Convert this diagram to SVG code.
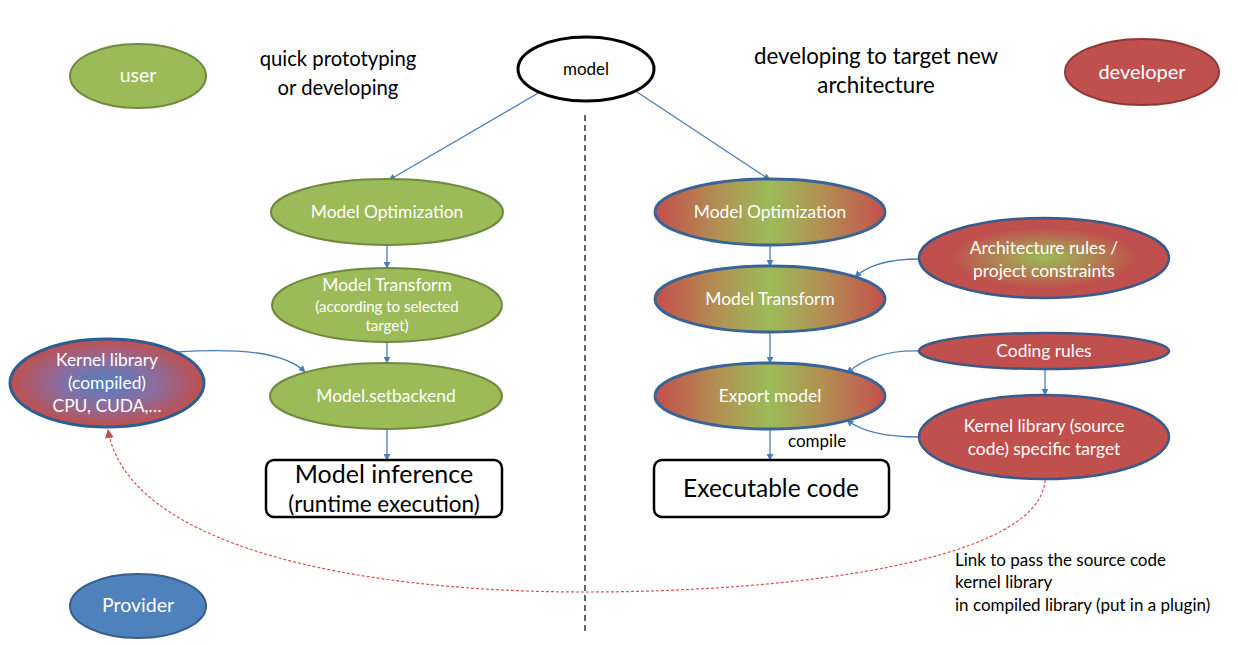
<svg xmlns="http://www.w3.org/2000/svg" width="1238" height="645" viewBox="0 0 1238 645">
<defs>
<style>
.t{font-family:Lato,"Open Sans","Liberation Sans",sans-serif}
.w{fill:#fff}
.k{fill:#000}
.n{font-size:17.4px}
.g{fill:#9BBB59;stroke:#71893F;stroke-width:2}
.rg{fill:url(#rgGrad);stroke:#3A6396;stroke-width:3}
.r{fill:#C0504D;stroke:#3A5A8C;stroke-width:2.5}
.c{fill:none;stroke:#4A7EBB;stroke-width:1.3}
.box{fill:#fff;stroke:#000;stroke-width:2.5}
</style>
<linearGradient id="rgGrad" x1="0" y1="0" x2="1" y2="0">
<stop offset="0" stop-color="#C34F4C"/>
<stop offset="0.28" stop-color="#B29153"/>
<stop offset="0.5" stop-color="#9CBB58"/>
<stop offset="0.72" stop-color="#B29153"/>
<stop offset="1" stop-color="#C34F4C"/>
</linearGradient>
<radialGradient id="archGrad" cx="0.5" cy="0.5" r="0.5">
<stop offset="0" stop-color="#9BBB59"/>
<stop offset="0.75" stop-color="#C0504D"/>
</radialGradient>
<radialGradient id="kcGrad" cx="0.5" cy="0.5" r="0.5">
<stop offset="0" stop-color="#4F81BD"/>
<stop offset="0.5" stop-color="#8A6DA0"/>
<stop offset="1" stop-color="#C0504D"/>
</radialGradient>
<marker id="ab" viewBox="0 0 10 10" refX="9" refY="5" markerWidth="7" markerHeight="7" orient="auto-start-reverse" markerUnits="userSpaceOnUse">
<path d="M0,0 L10,5 L0,10 z" fill="#4A7EBB"/>
</marker>
<marker id="ar" viewBox="0 0 10 10" refX="9" refY="5" markerWidth="9" markerHeight="9" orient="auto" markerUnits="userSpaceOnUse">
<path d="M0,0 L10,5 L0,10 z" fill="#C0504D"/>
</marker>
</defs>
<rect width="1238" height="645" fill="#fff"/>

<line x1="585" y1="115" x2="585" y2="632" stroke="#000" stroke-width="1.2" stroke-dasharray="6,4"/>

<text class="t k" x="338" y="66" font-size="20.3" text-anchor="middle">quick prototyping</text>
<text class="t k" x="338" y="95" font-size="20.3" text-anchor="middle">or developing</text>
<text class="t k" x="876" y="64" font-size="22.3" text-anchor="middle">developing to target new</text>
<text class="t k" x="876" y="93" font-size="22.3" text-anchor="middle">architecture</text>

<g id="connectors">
<line class="c" x1="540" y1="92" x2="389" y2="180" marker-end="url(#ab)"/>
<line class="c" x1="637" y1="92" x2="770" y2="180" marker-end="url(#ab)"/>
<line class="c" x1="387" y1="245" x2="387" y2="268" marker-end="url(#ab)"/>
<line class="c" x1="387" y1="342" x2="387" y2="363" marker-end="url(#ab)"/>
<line class="c" x1="387" y1="429" x2="387" y2="460" marker-end="url(#ab)"/>
<path class="c" d="M177,352 C240,348 285,352 305,372" marker-end="url(#ab)"/>
<line class="c" x1="770" y1="245" x2="770" y2="266" marker-end="url(#ab)"/>
<line class="c" x1="770" y1="332" x2="770" y2="363" marker-end="url(#ab)"/>
<line class="c" x1="770" y1="429" x2="770" y2="460" marker-end="url(#ab)"/>
<path class="c" d="M919,259 C890,259 868,265 855,277" marker-end="url(#ab)"/>
<path class="c" d="M919,351 C885,350 862,360 847,373" marker-end="url(#ab)"/>
<path class="c" d="M919,437 C885,437 862,432 847,420" marker-end="url(#ab)"/>
<line class="c" x1="1045" y1="369" x2="1045" y2="395" marker-end="url(#ab)"/>
<path d="M1045,480 C1040,560 800,592 585,592 C350,592 128,545 108,430" fill="none" stroke="#D9534F" stroke-width="1.2" stroke-dasharray="3,2" marker-end="url(#ar)"/>
<text class="t k" x="788" y="447" font-size="17">compile</text>
</g>

<g id="user">
<ellipse class="g" cx="138" cy="76" rx="68" ry="32"/>
<text class="t w" x="138" y="82" font-size="19.5" text-anchor="middle">user</text>
</g>
<g id="model">
<ellipse cx="586" cy="69" rx="68" ry="32" fill="#fff" stroke="#000" stroke-width="3"/>
<text class="t k" x="586" y="75" font-size="17" text-anchor="middle">model</text>
</g>
<g id="developer">
<ellipse cx="1142" cy="72" rx="77" ry="33" fill="#C0504D" stroke="#8C3836" stroke-width="2"/>
<text class="t w" x="1142" y="79" font-size="20" text-anchor="middle">developer</text>
</g>
<g id="provider">
<ellipse cx="138" cy="606" rx="68" ry="32" fill="#4F81BD" stroke="#385D8A" stroke-width="2"/>
<text class="t w" x="138" y="612" font-size="19.5" text-anchor="middle">Provider</text>
</g>

<g id="left-opt">
<ellipse class="g" cx="387" cy="212" rx="116" ry="33"/>
<text class="t w n" x="387" y="218" text-anchor="middle">Model Optimization</text>
</g>
<g id="left-transform">
<ellipse class="g" cx="387" cy="305" rx="115" ry="37"/>
<text class="t w n" x="387" y="291" text-anchor="middle">Model Transform</text>
<text class="t w" x="387" y="312" font-size="15" text-anchor="middle">(according to selected</text>
<text class="t w" x="387" y="331" font-size="15" text-anchor="middle">target)</text>
</g>
<g id="left-backend">
<ellipse class="g" cx="386" cy="396" rx="116" ry="33"/>
<text class="t w n" x="386" y="402" text-anchor="middle">Model.setbackend</text>
</g>
<g id="model-inference">
<rect class="box" x="266" y="460" width="236" height="57" rx="8"/>
<text class="t k" x="384" y="483" font-size="25" text-anchor="middle">Model inference</text>
<text class="t k" x="384" y="512" font-size="22.5" text-anchor="middle">(runtime execution)</text>
</g>
<g id="kernel-compiled">
<ellipse cx="107" cy="383" rx="97" ry="44" fill="url(#kcGrad)" stroke="#2C5F91" stroke-width="3"/>
<text class="t w n" x="107" y="366" text-anchor="middle">Kernel library</text>
<text class="t w n" x="107" y="389" text-anchor="middle">(compiled)</text>
<text class="t w n" x="107" y="412" text-anchor="middle">CPU, CUDA,…</text>
</g>

<g id="right-opt">
<ellipse class="rg" cx="770" cy="212" rx="115" ry="33"/>
<text class="t w n" x="770" y="218" text-anchor="middle">Model Optimization</text>
</g>
<g id="right-transform">
<ellipse class="rg" cx="770" cy="299" rx="115" ry="33"/>
<text class="t w n" x="770" y="305" text-anchor="middle">Model Transform</text>
</g>
<g id="export-model">
<ellipse class="rg" cx="770" cy="396" rx="115" ry="33"/>
<text class="t w n" x="770" y="402" text-anchor="middle">Export model</text>
</g>
<g id="executable-code">
<rect class="box" x="654" y="460" width="235" height="57" rx="8"/>
<text class="t k" x="771" y="497" font-size="24.5" text-anchor="middle">Executable code</text>
</g>
<g id="arch-rules">
<ellipse cx="1044" cy="258" rx="125" ry="40" fill="url(#archGrad)" stroke="#3A5A8C" stroke-width="2.5"/>
<text class="t w n" x="1044" y="254" text-anchor="middle">Architecture rules /</text>
<text class="t w n" x="1044" y="277" text-anchor="middle">project constraints</text>
</g>
<g id="coding-rules">
<ellipse class="r" cx="1044" cy="351" rx="125" ry="18"/>
<text class="t w n" x="1044" y="357" text-anchor="middle">Coding rules</text>
<line x1="996" y1="361" x2="1092" y2="361" stroke="#E04040" stroke-width="0.8" stroke-dasharray="2,1"/>
</g>
<g id="kernel-source">
<ellipse class="r" cx="1044" cy="437" rx="125" ry="42"/>
<text class="t w n" x="1044" y="432" text-anchor="middle">Kernel library (source</text>
<text class="t w n" x="1044" y="455" text-anchor="middle">code) specific target</text>
</g>

<g id="note">
<text class="t k" x="955" y="566" font-size="17">Link to pass the source code</text>
<text class="t k" x="955" y="588" font-size="17">kernel library</text>
<text class="t k" x="955" y="611" font-size="17">in compiled library (put in a plugin)</text>
</g>
</svg>
